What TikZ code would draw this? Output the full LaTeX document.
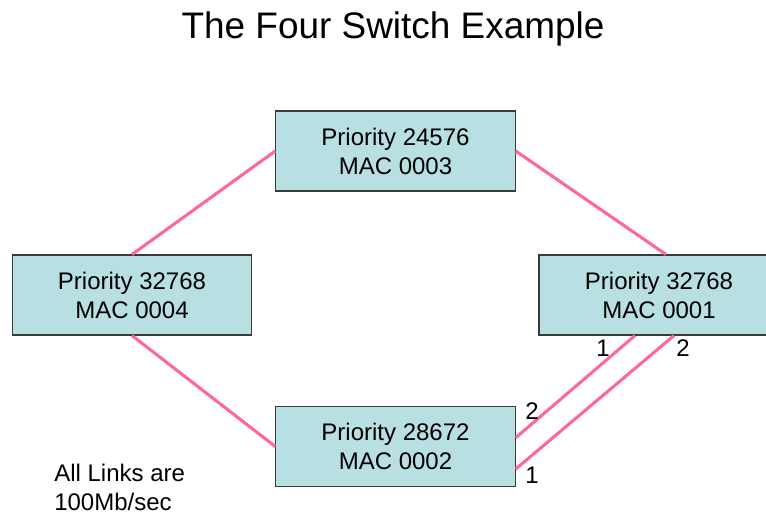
\documentclass[tikz,border=0pt]{standalone}
\usepackage{fontspec}
\setmainfont{Liberation Sans}
\definecolor{boxfill}{HTML}{B8DFE2}
\definecolor{linkpink}{HTML}{FF6699}
\definecolor{boxedge}{HTML}{3A3A3A}
\tikzset{
  switchbox/.style={draw=boxedge, line width=0.8pt, fill=boxfill, minimum width=179.5pt, minimum height=60pt, inner sep=0pt, align=center, font=\fontsize{18}{21.75}\selectfont},
  link/.style={draw=linkpink, line width=2.3pt},
  portlabel/.style={inner sep=0pt, font=\fontsize{18}{21.75}\selectfont},
  plaintext/.style={inner sep=0pt, align=left, font=\fontsize{18}{21.75}\selectfont}
}
\begin{document}
\begin{tikzpicture}[x=0.75pt, y=-0.75pt]
\useasboundingbox (0,0) rectangle (766,515);
\node[inner sep=0pt, font=\fontsize{27.7}{33}\selectfont] (title) at (393,29) {The Four Switch Example};
\node[switchbox] (top) at (395.5,151) {Priority 24576\\MAC 0003};
\node[switchbox] (left) at (132,295) {Priority 32768\\MAC 0004};
\node[switchbox, minimum width=180pt] (right) at (659,295) {Priority 32768\\MAC 0001};
\node[switchbox] (bottom) at (395.5,446.5) {Priority 28672\\MAC 0002};
\draw[link] (left.north) -- (top.west);
\draw[link] (top.east) -- ([xshift=5.25pt]right.north);
\draw[link] (left.south) -- (bottom.west);
\draw[link] ([xshift=-18pt]right.south) -- ([yshift=6.6pt]bottom.east);
\draw[link] ([xshift=11.25pt]right.south) -- ([yshift=-16.9pt]bottom.east);
\node[portlabel] (p1a) at (603,348) {1};
\node[portlabel] (p2a) at (683,348) {2};
\node[portlabel] (p2b) at (532,411) {2};
\node[portlabel] (p1b) at (532,475) {1};
\node[plaintext, anchor=north west] (note) at (54,464) {All Links are\\100Mb/sec};
\end{tikzpicture}
\end{document}
